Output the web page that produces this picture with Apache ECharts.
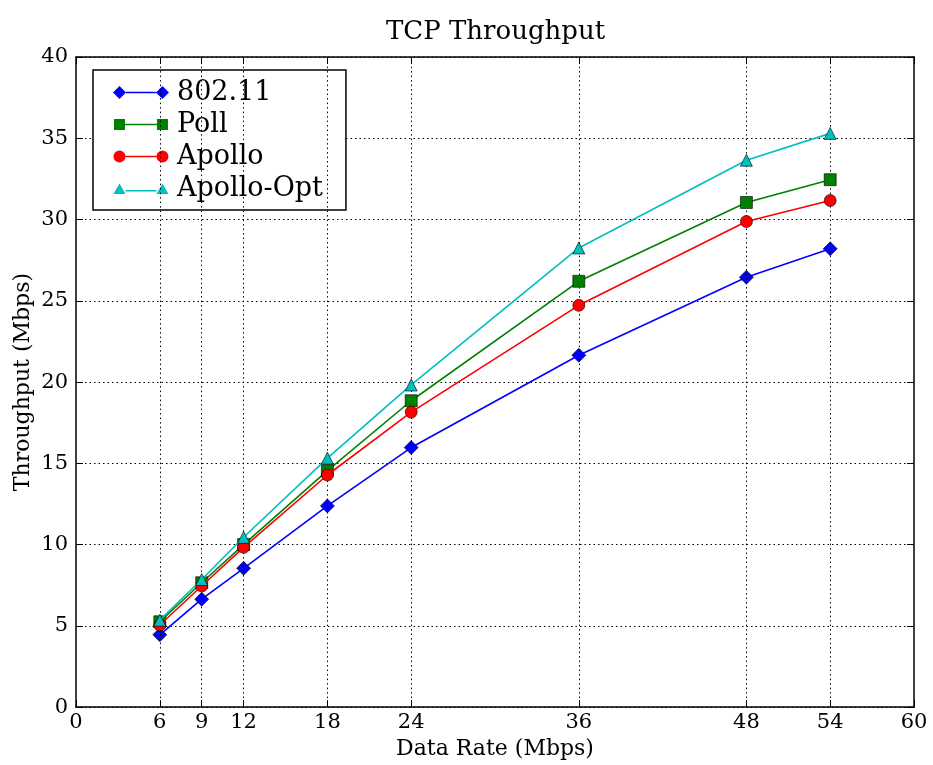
<!DOCTYPE html>
<html>
<head>
<meta charset="utf-8">
<script src="https://cdn.jsdelivr.net/npm/echarts@6/dist/echarts.min.js"></script>
<style>html,body{margin:0;padding:0;background:#fff;}#c{width:933px;height:765px;}</style>
</head>
<body>
<div id="c"></div>
<script>
const xValues = [6, 9, 12, 18, 24, 36, 48, 54];
const s80211 = [4.45, 6.64, 8.54, 12.38, 15.97, 21.65, 26.45, 28.2];
const sPoll = [5.25, 7.65, 10.0, 14.55, 18.85, 26.2, 31.05, 32.45];
const sApollo = [5.05, 7.45, 9.83, 14.28, 18.15, 24.72, 29.88, 31.17];
const sApolloOpt = [5.35, 7.85, 10.45, 15.32, 19.82, 28.25, 33.65, 35.3];
const xTicks = [0, 6, 9, 12, 18, 24, 36, 48, 54, 60];
const seriesNames = ['802.11', 'Poll', 'Apollo', 'Apollo-Opt'];

const FONT = 'DejaVu Serif';
const chart = echarts.init(document.getElementById('c'), null, {renderer: 'canvas'});
function pairs(ys) { return xValues.map((x, i) => [x, ys[i]]); }
const dotted = {color: '#000', width: 1, type: [1.5, 3]};

// legend icons: marker - line - marker (matplotlib style); zero-area points pad the box
const PAD = ' M0,0L0,0.01Z M59,13L59,13.01Z';
const legendIcons = {
  '802.11': 'path://M0,6.5L6.5,0L13,6.5L6.5,13Z M13,5.75L43,5.75L43,7.25L13,7.25Z M43,6.5L49.5,0L56,6.5L49.5,13Z' + PAD,
  'Poll': 'path://M1,1L12,1L12,12L1,12Z M12,5.75L44,5.75L44,7.25L12,7.25Z M44,1L55,1L55,12L44,12Z' + PAD,
  'Apollo': 'path://M0.5,6.5A6,6 0 1 1 12.5,6.5A6,6 0 1 1 0.5,6.5Z M12.5,5.75L43.5,5.75L43.5,7.25L12.5,7.25Z M43.5,6.5A6,6 0 1 1 55.5,6.5A6,6 0 1 1 43.5,6.5Z' + PAD,
  'Apollo-Opt': 'path://M0.5,12L6.5,1.5L12.5,12Z M12.5,8L43.5,8L43.5,9.5L12.5,9.5Z M43.5,12L49.5,1.5L55.5,12Z' + PAD
};

function mkSeries(idx, name, ys, color, symbol, size) {
  return [{
    // markers (listed first so the legend takes its icon from this series)
    name: name, type: 'scatter', data: pairs(ys), symbol: symbol, symbolSize: size,
    itemStyle: {color: color, borderColor: '#000', borderWidth: 0.6, opacity: 1},
    emphasis: {disabled: true}, animation: false, z: 3 + 2 * idx
  }, {
    name: name, type: 'line', data: pairs(ys), symbol: 'none', showSymbol: false,
    lineStyle: {color: color, width: 1.6},
    itemStyle: {color: color},
    emphasis: {disabled: true}, animation: false, z: 2 + 2 * idx
  }];
}

chart.setOption({
  animation: false,
  backgroundColor: '#fff',
  title: {
    text: 'TCP Throughput', left: 381, top: 14,
    textStyle: {fontFamily: FONT, fontSize: 26, fontWeight: 'normal', color: '#000'}
  },
  grid: {left: 76, right: 19, top: 57, bottom: 57, containLabel: false},
  legend: {
    data: seriesNames.map(n => ({name: n, icon: legendIcons[n]})),
    orient: 'vertical', left: 93, top: 70,
    padding: [9, 23, 8, 20],
    borderColor: '#000', borderWidth: 1.5, backgroundColor: '#fff',
    itemWidth: 59, itemHeight: 13, itemGap: 5,
    itemStyle: {borderWidth: 0},
    selectedMode: false,
    textStyle: {fontFamily: FONT, fontSize: 27, lineHeight: 26, color: '#000'}
  },
  xAxis: [{
    type: 'value', min: 0, max: 60, position: 'bottom',
    name: 'Data Rate (Mbps)', nameLocation: 'middle', nameGap: 29,
    nameTextStyle: {fontFamily: FONT, fontSize: 22, color: '#000'},
    axisLine: {show: true, onZero: false, lineStyle: {color: '#000', width: 1.5}},
    axisTick: {show: true, inside: true, length: 7, customValues: xTicks, lineStyle: {color: '#000', width: 1}},
    axisLabel: {show: true, customValues: xTicks, margin: 5, fontFamily: FONT, fontSize: 21, color: '#000'},
    splitLine: {show: false}
  }, {
    type: 'value', min: 0, max: 60, position: 'top',
    axisLine: {show: true, onZero: false, lineStyle: {color: '#000', width: 1.5}},
    axisTick: {show: true, inside: true, length: 7, customValues: xTicks, lineStyle: {color: '#000', width: 1}},
    axisLabel: {show: false}, splitLine: {show: false}
  }],
  yAxis: [{
    type: 'value', min: 0, max: 40, interval: 5, position: 'left',
    name: 'Throughput (Mbps)', nameLocation: 'middle', nameGap: 42, nameMoveOverlap: false,
    nameTextStyle: {fontFamily: FONT, fontSize: 22, color: '#000'},
    axisLine: {show: true, onZero: false, lineStyle: {color: '#000', width: 1.5}},
    axisTick: {show: true, inside: true, length: 7, lineStyle: {color: '#000', width: 1}},
    axisLabel: {show: true, margin: 8, fontFamily: FONT, fontSize: 21, color: '#000'},
    splitLine: {show: true, lineStyle: dotted}
  }, {
    type: 'value', min: 0, max: 40, interval: 5, position: 'right',
    axisLine: {show: true, onZero: false, lineStyle: {color: '#000', width: 1.5}},
    axisTick: {show: true, inside: true, length: 7, lineStyle: {color: '#000', width: 1}},
    axisLabel: {show: false}, splitLine: {show: false}
  }],
  series: [
    {
      name: 'grid-x', type: 'line', data: [], silent: true, z: 1,
      markLine: {
        silent: true, symbol: 'none', animation: false,
        label: {show: false}, lineStyle: dotted,
        emphasis: {disabled: true},
        data: xTicks.slice(1, -1).map(v => ({xAxis: v}))
      }
    }
  ].concat(
    mkSeries(0, '802.11', s80211, '#0000ff', 'diamond', 14),
    mkSeries(1, 'Poll', sPoll, '#008000', 'rect', 12),
    mkSeries(2, 'Apollo', sApollo, '#ff0000', 'circle', 12),
    mkSeries(3, 'Apollo-Opt', sApolloOpt, '#00bfbf', 'triangle', 12)
  )
});
</script>
</body>
</html>
